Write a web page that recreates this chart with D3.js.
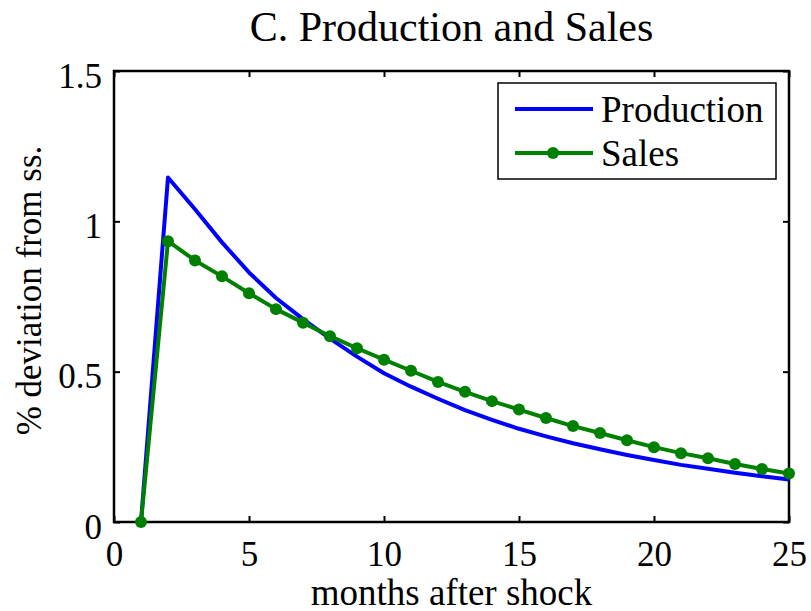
<!DOCTYPE html>
<html>
<head>
<meta charset="utf-8">
<script src="https://cdn.jsdelivr.net/npm/d3@7"></script>
<style>
  body { margin: 0; background: #fff; }
  text { font-family: "Liberation Serif", "Times New Roman", serif; fill: #000; }
</style>
</head>
<body>
<div id="container"></div>
<script>
// months after shock
const months = d3.range(1, 26);
// % deviation from steady state
const production = [0, 1.146, 1.04, 0.93, 0.83, 0.745, 0.675, 0.61, 0.55, 0.495,
    0.45, 0.41, 0.372, 0.34, 0.31, 0.285, 0.262, 0.242, 0.223, 0.206,
    0.19, 0.177, 0.164, 0.152, 0.141];
const sales = [0, 0.934, 0.870, 0.817, 0.761, 0.708, 0.663, 0.618, 0.578, 0.540,
    0.503, 0.466, 0.433, 0.402, 0.374, 0.346, 0.319, 0.296, 0.272, 0.249,
    0.229, 0.212, 0.193, 0.176, 0.161];
const xTicks = [0, 5, 10, 15, 20, 25];
const yTicks = [0, 0.5, 1, 1.5];
const seriesNames = ['Production', 'Sales'];

const width = 811;
const height = 611;
const margin = {left: 114, right: 22, top: 71, bottom: 89};
const innerWidth = width - margin.left - margin.right;
const innerHeight = height - margin.top - margin.bottom;
const tickFont = '35px';
const labelFont = '37px';

const svg = d3.select('#container')
    .append('svg')
    .attr('width', width)
    .attr('height', height);

const g = svg.append('g')
    .attr('transform', `translate(${margin.left},${margin.top})`);

// scales
const x = d3.scaleLinear().domain([0, 25]).range([0, innerWidth]);
const y = d3.scaleLinear().domain([0, 1.5]).range([innerHeight, 0]);

// axes with inward ticks on all four sides (matlab box style)
const tickLen = 6;
const axisStyle = sel => {
    sel.select('.domain').remove();
    sel.attr('font-family', null).attr('font-size', null);
    sel.selectAll('line').attr('stroke', '#000').attr('stroke-width', 2);
    sel.selectAll('text').style('font-size', tickFont);
};
g.append('g')
    .attr('transform', `translate(0,${innerHeight})`)
    .call(d3.axisBottom(x).tickValues(xTicks).tickSize(-tickLen).tickPadding(19).tickFormat(d3.format('d')))
    .call(axisStyle);
g.append('g')
    .call(d3.axisTop(x).tickValues(xTicks).tickSize(-tickLen).tickFormat(''))
    .call(axisStyle);
g.append('g')
    .call(d3.axisLeft(y).tickValues(yTicks).tickSize(-tickLen).tickPadding(12).tickFormat(d => d))
    .call(axisStyle)
    .selectAll('text').attr('dy', '0.46em');
g.append('g')
    .attr('transform', `translate(${innerWidth},0)`)
    .call(d3.axisRight(y).tickValues(yTicks).tickSize(-tickLen).tickFormat(''))
    .call(axisStyle);

// box
g.append('rect')
    .attr('width', innerWidth)
    .attr('height', innerHeight)
    .attr('fill', 'none')
    .attr('stroke', '#000')
    .attr('stroke-width', 2.5);

// lines
const line = d3.line()
    .x((d, i) => x(months[i]))
    .y(d => y(d));

g.append('path')
    .datum(production)
    .attr('fill', 'none')
    .attr('stroke', '#0000ff')
    .attr('stroke-width', 4)
    .attr('stroke-linejoin', 'round')
    .attr('d', line);

g.append('path')
    .datum(sales)
    .attr('fill', 'none')
    .attr('stroke', '#008000')
    .attr('stroke-width', 4)
    .attr('stroke-linejoin', 'round')
    .attr('d', line);

g.selectAll('.dot')
    .data(sales)
    .enter()
    .append('circle')
    .attr('class', 'dot')
    .attr('cx', (d, i) => x(months[i]))
    .attr('cy', d => y(d))
    .attr('r', 6)
    .attr('fill', '#008000');

// title and axis labels
svg.append('text')
    .attr('x', margin.left + innerWidth / 2)
    .attr('y', 41)
    .attr('text-anchor', 'middle')
    .style('font-size', '42px')
    .text('C. Production and Sales');

svg.append('text')
    .attr('x', margin.left + innerWidth / 2)
    .attr('y', 605)
    .attr('text-anchor', 'middle')
    .style('font-size', labelFont)
    .text('months after shock');

svg.append('text')
    .attr('transform', `translate(41,${margin.top + innerHeight / 2 - 6}) rotate(-90)`)
    .attr('text-anchor', 'middle')
    .style('font-size', '35px')
    .text('% deviation from ss.');

// legend
const legend = svg.append('g').attr('transform', 'translate(498,83)');
legend.append('rect')
    .attr('width', 278)
    .attr('height', 96)
    .attr('fill', '#fff')
    .attr('stroke', '#000')
    .attr('stroke-width', 1.5);
const colors = ['#0000ff', '#008000'];
seriesNames.forEach((name, i) => {
    const ly = 26 + i * 44;
    legend.append('line')
        .attr('x1', 17).attr('x2', 95)
        .attr('y1', ly).attr('y2', ly)
        .attr('stroke', colors[i])
        .attr('stroke-width', 4);
    if (name === 'Sales') {
        legend.append('circle')
            .attr('cx', 55).attr('cy', ly).attr('r', 6)
            .attr('fill', colors[i]);
    }
    legend.append('text')
        .attr('x', 103)
        .attr('y', ly + 13)
        .style('font-size', labelFont)
        .text(name);
});
</script>
</body>
</html>
